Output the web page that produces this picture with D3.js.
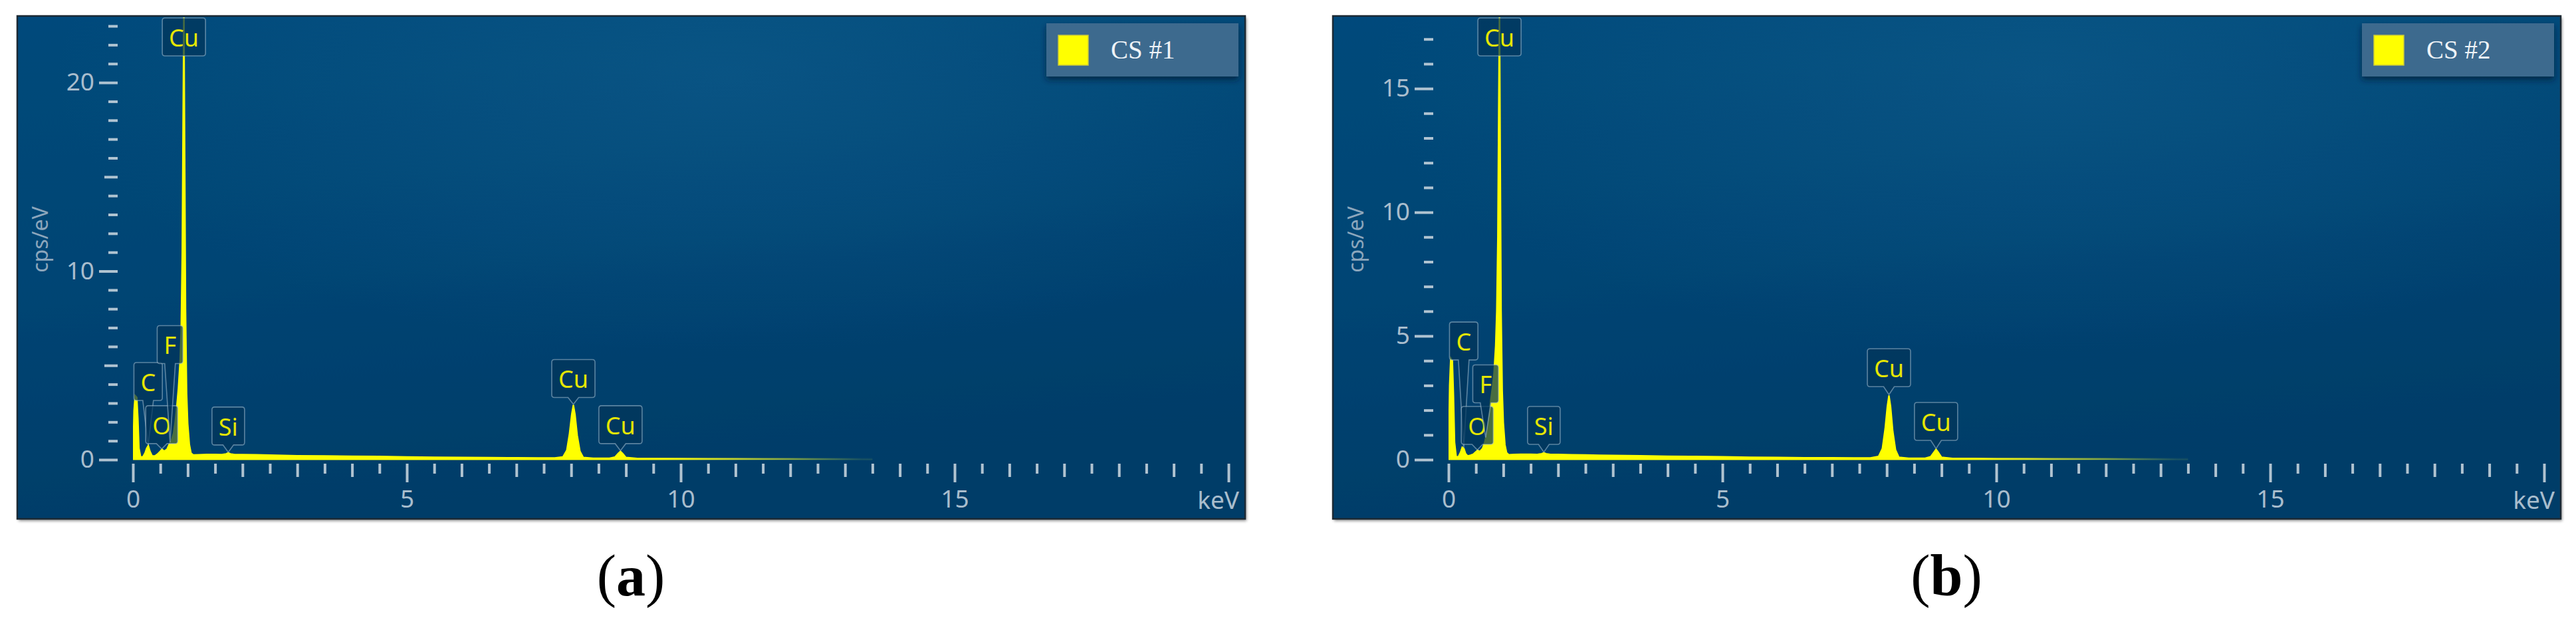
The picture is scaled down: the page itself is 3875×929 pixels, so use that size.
<!DOCTYPE html>
<html><head><meta charset="utf-8">
<script src="https://cdn.jsdelivr.net/npm/d3@7"></script>
<style>html,body{margin:0;padding:0;background:#fff;} svg{display:block}</style>
</head><body>
<svg id="chart" width="3875" height="929"></svg>
<script>
// ---------------- DATA ----------------
const energy = [0.00,0.02,0.04,0.07,0.09,0.11,0.14,0.18,0.22,0.25,0.28,0.31,0.35,0.40,0.45,0.50,0.53,0.57,0.62,0.66,0.70,0.74,0.77,0.80,0.83,0.86,0.88,0.90,0.915,0.93,0.945,0.96,0.98,1.00,1.03,1.06,1.10,1.20,1.35,1.50,1.62,1.70,1.74,1.78,1.86,2.00,2.25,2.50,2.75,3.00,3.50,4.00,4.50,5.00,5.50,6.00,6.50,7.00,7.40,7.70,7.85,7.92,7.97,8.01,8.04,8.07,8.11,8.16,8.22,8.40,8.70,8.80,8.86,8.90,8.94,9.00,9.20,9.60,10.0,10.5,11.0,11.5,12.0,12.5,13.0,13.5];
const cpsA = [0.05,2.6,3.4,3.3,2.2,0.6,0.15,0.15,0.35,0.6,0.75,0.45,0.2,0.2,0.3,0.45,0.55,0.45,0.55,0.8,1.0,1.4,2.0,2.8,3.8,5.2,6.8,11,18,24,16,8,3.5,1.9,0.8,0.35,0.25,0.26,0.28,0.28,0.27,0.31,0.36,0.31,0.27,0.27,0.26,0.24,0.23,0.21,0.2,0.18,0.17,0.15,0.13,0.12,0.11,0.10,0.09,0.09,0.15,0.5,1.4,2.4,2.9,2.4,1.3,0.45,0.12,0.08,0.08,0.14,0.33,0.44,0.33,0.12,0.07,0.06,0.06,0.05,0.05,0.04,0.04,0.03,0.02,0.0];
const cpsB = [0.05,3.0,4.1,4.0,2.6,0.7,0.12,0.12,0.3,0.5,0.45,0.25,0.15,0.18,0.22,0.32,0.38,0.33,0.45,0.7,1.1,1.8,2.4,2.9,3.5,4.6,6.0,9,14,18.5,12,6,2.8,1.5,0.6,0.28,0.2,0.21,0.22,0.22,0.21,0.24,0.28,0.24,0.21,0.21,0.2,0.19,0.18,0.17,0.16,0.14,0.13,0.12,0.10,0.09,0.08,0.08,0.07,0.07,0.13,0.45,1.25,2.15,2.6,2.15,1.15,0.4,0.1,0.06,0.06,0.12,0.3,0.42,0.3,0.1,0.05,0.05,0.04,0.04,0.03,0.03,0.03,0.02,0.01,0.0];
const seriesNames = ["CS #1", "CS #2"];
const panelTags = ["a", "b"];
const yMaxes = [23.46, 17.88];
const yLabelTicksA = [0, 10, 20];
const yMediumTicksA = [5, 15];
const yLabelTicksB = [0, 5, 10, 15];
const yMediumTicksB = [];
const xLabelTicks = [0, 5, 10, 15];
const xMax = 20;
const xUnitLabel = "keV";
const yTitle = "cps/eV";
// element markers: element, line energy (keV), level of label bottom (cps/eV), null = pinned at top
const labelsA = [
  {el:"C",  keV:0.277, level:3.14},
  {el:"O",  keV:0.525, level:0.85},
  {el:"F",  keV:0.677, level:5.1},
  {el:"Cu", keV:0.93,  level:null},
  {el:"Si", keV:1.74,  level:0.78},
  {el:"Cu", keV:8.04,  level:3.3},
  {el:"Cu", keV:8.9,   level:0.85}
];
const labelsB = [
  {el:"C",  keV:0.277, level:4.03},
  {el:"O",  keV:0.525, level:0.62},
  {el:"F",  keV:0.677, level:2.3},
  {el:"Cu", keV:0.93,  level:null},
  {el:"Si", keV:1.74,  level:0.62},
  {el:"Cu", keV:8.04,  level:2.95},
  {el:"Cu", keV:8.9,   level:0.78}
];

// ---------------- DRAW ----------------
const svg = d3.select("#chart");
const defs = svg.append("defs");
const sans = "'Noto Sans', 'Open Sans', sans-serif";
const serif = "'Liberation Serif', 'Times New Roman', serif";

const bgGrad = defs.append("linearGradient").attr("id","bg").attr("x1","0").attr("y1","0").attr("x2","0.25").attr("y2","1");
bgGrad.append("stop").attr("offset","0").attr("stop-color","#004a7b");
bgGrad.append("stop").attr("offset","0.55").attr("stop-color","#004473");
bgGrad.append("stop").attr("offset","1").attr("stop-color","#003d68");
const glow = defs.append("radialGradient").attr("id","glow").attr("cx","0.58").attr("cy","0.12").attr("r","0.55");
glow.append("stop").attr("offset","0").attr("stop-color","#1a6a9a").attr("stop-opacity",0.35);
glow.append("stop").attr("offset","1").attr("stop-color","#1a6a9a").attr("stop-opacity",0);

const shadow = defs.append("filter").attr("id","shadow").attr("x","-5%").attr("y","-5%").attr("width","110%").attr("height","115%");
shadow.append("feDropShadow").attr("dx",2).attr("dy",3).attr("stdDeviation",2).attr("flood-color","#000").attr("flood-opacity",0.45);
const lshadow = defs.append("filter").attr("id","lshadow").attr("x","-10%").attr("y","-20%").attr("width","120%").attr("height","160%");
lshadow.append("feDropShadow").attr("dx",0).attr("dy",5).attr("stdDeviation",5).attr("flood-color","#001a30").attr("flood-opacity",0.7);

const panels = [
  {left:26,   series:cpsA, yMax:yMaxes[0], majors:yLabelTicksA, mediums:yMediumTicksA, labels:labelsA},
  {left:2005, series:cpsB, yMax:yMaxes[1], majors:yLabelTicksB, mediums:yMediumTicksB, labels:labelsB}
];

const tickColor = "#c3d1dc";
const textColor = "#a9bdcd";

panels.forEach((p, pi) => {
  const L = p.left;
  const frameW = 1847, frameTop = 24, frameH = 756;
  const x0 = L + 174, y0 = 691, plotTop = 26;
  const x = d3.scaleLinear().domain([0, xMax]).range([x0, x0 + 1648]);
  const y = d3.scaleLinear().domain([0, p.yMax]).range([y0, plotTop]);
  const g = svg.append("g");

  // frame + background
  g.append("rect").attr("x",L).attr("y",frameTop).attr("width",frameW).attr("height",frameH)
    .attr("fill","url(#bg)").attr("filter","url(#shadow)");
  g.append("rect").attr("x",L).attr("y",frameTop).attr("width",frameW).attr("height",frameH)
    .attr("fill","url(#glow)");

  // clip
  const cid = "clip" + pi;
  defs.append("clipPath").attr("id",cid).append("rect")
    .attr("x",x0).attr("y",plotTop).attr("width",1648).attr("height",y0-plotTop+1);

  // fade gradient for spectrum tail
  const fg = defs.append("linearGradient").attr("id","fade"+pi).attr("gradientUnits","userSpaceOnUse")
    .attr("x1", x(9.3)).attr("y1",0).attr("x2", x(13.3)).attr("y2",0);
  fg.append("stop").attr("offset","0").attr("stop-color","#ffff00").attr("stop-opacity",1);
  fg.append("stop").attr("offset","0.45").attr("stop-color","#d7e22a").attr("stop-opacity",0.55);
  fg.append("stop").attr("offset","1").attr("stop-color","#9fc040").attr("stop-opacity",0.08);

  const pts = energy.map((e,i) => [e, p.series[i]]);
  const area = d3.area().x(d => x(d[0])).y0(y0).y1(d => y(d[1]));
  const line = d3.line().x(d => x(d[0])).y(d => y(d[1]));
  const sg = g.append("g").attr("clip-path","url(#"+cid+")");
  sg.append("path").datum(pts).attr("d",area).attr("fill","url(#fade"+pi+")");
  sg.append("path").datum(pts).attr("d",line).attr("fill","none").attr("stroke","url(#fade"+pi+")").attr("stroke-width",2.2);
  sg.append("path").datum(pts).attr("d",d3.line().x(d=>x(d[0])).y(y0-1)).attr("stroke","url(#fade"+pi+")").attr("stroke-width",3).attr("fill","none");

  // ---- X axis ticks ----
  const xAll = d3.range(0, xMax + 0.001, 0.5);
  const xShort = xAll.filter(v => v % 1 !== 0);
  const xMed = xAll.filter(v => v % 1 === 0 && v % 5 !== 0);
  const xLong = xAll.filter(v => v % 5 === 0);
  const xg = g.append("g").attr("transform",`translate(0,${y0+6})`);
  const styleAxis = sel => {
    sel.select(".domain").remove();
    sel.selectAll(".tick line").attr("stroke",tickColor).attr("stroke-width",4).attr("stroke-opacity",0.9);
    sel.selectAll("text").attr("fill",textColor).attr("font-family",sans).attr("font-size",37);
  };
  xg.append("g").call(d3.axisBottom(x).tickValues(xShort).tickSize(15).tickFormat("")).call(styleAxis);
  xg.append("g").call(d3.axisBottom(x).tickValues(xMed).tickSize(20).tickFormat("")).call(styleAxis);
  xg.append("g").call(d3.axisBottom(x).tickValues(xLong).tickSize(28).tickPadding(12)
      .tickFormat(v => xLabelTicks.includes(v) ? d3.format("d")(v) : "")).call(styleAxis);
  g.append("text").attr("x", x(xMax) + 16).attr("y", y0 + 74).attr("text-anchor","end")
    .attr("fill",textColor).attr("font-family",sans).attr("font-size",37).text(xUnitLabel);

  // ---- Y axis ticks ----
  const yAll = d3.range(0, Math.floor(p.yMax) + 1);
  const yMinor = yAll.filter(v => !p.majors.includes(v) && !p.mediums.includes(v));
  const yg = g.append("g").attr("transform",`translate(${x0-23},0)`);
  yg.append("g").call(d3.axisLeft(y).tickValues(yMinor).tickSize(14).tickFormat("")).call(styleAxis);
  if (p.mediums.length) yg.append("g").call(d3.axisLeft(y).tickValues(p.mediums).tickSize(20).tickFormat("")).call(styleAxis);
  yg.append("g").call(d3.axisLeft(y).tickValues(p.majors).tickSize(28).tickPadding(7).tickFormat(d3.format("d"))).call(styleAxis);
  g.append("text").attr("transform",`translate(${L+46},360) rotate(-90)`).attr("text-anchor","middle")
    .attr("fill","#8ca6bc").attr("font-family",sans).attr("font-size",32).text(yTitle);

  // ---- element labels ----
  const valAt = e => {
    const i = d3.bisector(d => d).left(energy, e);
    if (i <= 0) return p.series[0];
    const e0 = energy[i-1], e1 = energy[i];
    const t = (e - e0) / (e1 - e0);
    return p.series[i-1] + t * (p.series[i] - p.series[i-1]);
  };
  const lg = g.append("g");
  p.labels.forEach(l => {
    const grp = lg.append("g");
    const h = 57;
    const cx = x(l.keV);
    const top = l.level == null ? 27 : y(l.level) - h;
    const bottom = top + h;
    const path = grp.append("path");
    const txt = grp.append("text").attr("x",cx).attr("y",top + h/2 + 1).attr("text-anchor","middle")
      .attr("dominant-baseline","central").attr("fill","#e6e600").attr("font-family",sans)
      .attr("font-size",36).text(l.el);
    const tw = txt.node().getComputedTextLength();
    const w = tw + 20, r = 4;
    const xl = cx - w/2, xr = cx + w/2;
    const tipX = cx, tipY = Math.min(y(valAt(l.keV)) - 1, y0 - 2);
    let d = `M${xl+r},${top} L${xr-r},${top} Q${xr},${top} ${xr},${top+r} L${xr},${bottom-r} Q${xr},${bottom} ${xr-r},${bottom}`;
    if (l.level != null && tipY > bottom + 3) {
      d += ` L${cx+8},${bottom} L${tipX},${tipY} L${cx-8},${bottom}`;
    }
    d += ` L${xl+r},${bottom} Q${xl},${bottom} ${xl},${bottom-r} L${xl},${top+r} Q${xl},${top} ${xl+r},${top} Z`;
    path.attr("d",d).attr("fill","#02355a").attr("fill-opacity",0.72)
      .attr("stroke","#a7bfd2").attr("stroke-opacity",0.55).attr("stroke-width",1.6);
  });

  // ---- legend ----
  const leg = g.append("g");
  leg.append("rect").attr("x",L+1548).attr("y",35).attr("width",289).attr("height",80)
    .attr("fill","#3e6b8e").attr("filter","url(#lshadow)");
  leg.append("rect").attr("x",L+1566).attr("y",53).attr("width",45).attr("height",45)
    .attr("fill","#ffff00").attr("stroke","#c9c93a").attr("stroke-width",1.5);
  leg.append("text").attr("x",L+1645).attr("y",88).attr("fill","#eef3f7")
    .attr("font-family",serif).attr("font-size",39).text(seriesNames[pi]);

  // frame border
  g.append("rect").attr("x",L).attr("y",frameTop).attr("width",frameW).attr("height",frameH)
    .attr("fill","none").attr("stroke","#1d2a34").attr("stroke-width",2.5);

  // caption
  const cap = svg.append("text").attr("x",L+923).attr("y",895).attr("text-anchor","middle")
    .attr("font-family",serif).attr("font-size",88).attr("fill","#000");
  cap.append("tspan").text("(");
  cap.append("tspan").attr("font-weight","bold").text(panelTags[pi]);
  cap.append("tspan").text(")");
});
</script>
</body></html>
